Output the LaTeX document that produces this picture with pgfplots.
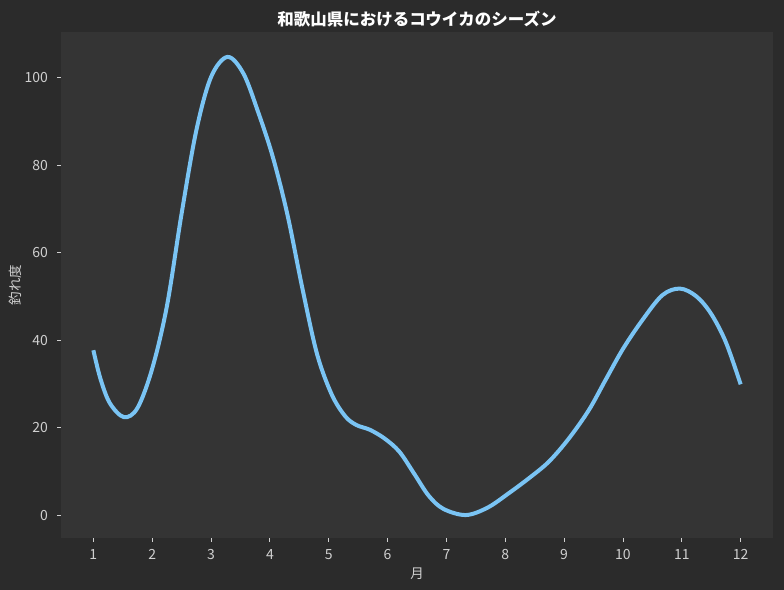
\documentclass[border=0pt]{standalone}
\usepackage{pgfplots}
\pgfplotsset{compat=1.18}
\usepackage{fontspec}
\setmainfont{Noto Sans CJK JP}
\definecolor{outerbg}{HTML}{2B2B2B}
\definecolor{axbg}{HTML}{343434}
\definecolor{curve}{HTML}{7AC4F4}
\definecolor{txt}{HTML}{D0D0D0}
\pgfplotstableread{
m v
1.00 37.7
1.12 31.2
1.28 25.6
1.52 22.4
1.75 24.5
2.00 33.5
2.25 47.8
2.50 69.0
2.75 88.0
3.00 100.2
3.28 104.8
3.55 101.0
3.80 92.2
4.05 81.9
4.30 68.6
4.55 52.0
4.80 36.9
5.05 27.6
5.28 22.6
5.47 20.6
5.70 19.5
5.95 17.5
6.20 14.5
6.45 9.5
6.70 4.4
6.95 1.4
7.33 0.0
7.70 1.7
8.06 5.0
8.40 8.4
8.74 12.2
9.08 17.5
9.42 24.0
9.70 30.8
10.00 38.0
10.33 44.6
10.67 50.3
10.97 51.8
11.25 50.0
11.50 46.0
11.75 39.5
12.00 29.9
}\seasondata
\begin{document}
\begin{tikzpicture}
\fill[outerbg] (-61bp,-52bp) rectangle (723bp,538bp);
\useasboundingbox (-61bp,-52bp) rectangle (723bp,538bp);
\begin{axis}[
  at={(0,0)}, anchor=south west,
  scale only axis,
  width=712bp, height=506bp,
  xmin=0.45, xmax=12.55,
  ymin=-5.25, ymax=110.5,
  xtick={1,2,3,4,5,6,7,8,9,10,11,12},
  ytick={0,20,40,60,80,100},
  axis background/.style={fill=axbg},
  axis line style={draw=none},
  tick pos=left,
  tick align=outside,
  major tick length=3.5bp,
  tick style={color=txt, line width=0.8bp},
  ticklabel style={font=\fontsize{14bp}{16bp}\selectfont, color=txt},
  /pgf/number format/assume math mode=true,
  xticklabel style={yshift=-4.5bp},
  yticklabel style={xshift=-6bp},
  title={\bfseries 和歌山県におけるコウイカのシーズン},
  title style={font=\fontsize{16.5bp}{19bp}\selectfont, color=white, yshift=-4.5bp},
  xlabel={月},
  ylabel={釣れ度},
  label style={font=\fontsize{13.5bp}{15bp}\selectfont, color=txt},
  xlabel style={yshift=-1bp},
  ylabel style={yshift=-4bp},
]
\addplot[curve, line width=4bp, line join=round, line cap=butt, smooth, tension=0.55] table[x=m, y=v] {\seasondata};
\end{axis}
\end{tikzpicture}
\end{document}
